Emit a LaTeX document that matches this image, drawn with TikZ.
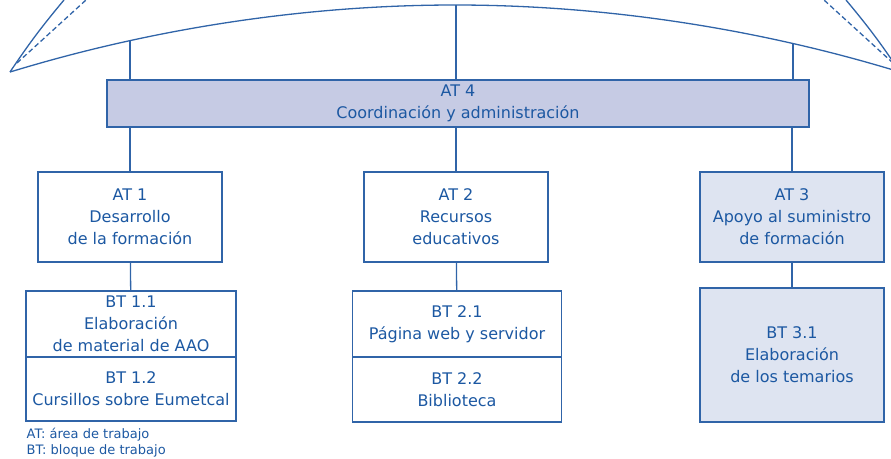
\documentclass[tikz,border=0pt]{standalone}
\usepackage{fontspec}
\setmainfont{DejaVu Sans}
\usepackage{xcolor}
\usepackage{tikz}

\definecolor{lineblue}{RGB}{48,100,168}
\definecolor{textblue}{RGB}{28,88,162}
\definecolor{lavender}{RGB}{198,203,228}
\definecolor{paleblue}{RGB}{222,228,241}

\begin{document}
\begin{tikzpicture}[
    x=1pt, y=-1pt,
    every node/.style={draw=lineblue, line width=1.5pt, text=textblue, align=center,
        inner sep=0pt, font=\fontsize{16}{22}\selectfont},
    link/.style={draw=lineblue, line width=1.3pt},
    roof/.style={draw=lineblue, line width=1.3pt},
    legend/.style={draw=none, font=\fontsize{13}{16}\selectfont, anchor=base west}
]

\useasboundingbox (0,0) rectangle (891,458);

% Roof
\draw[roof] (10,72) parabola bend (455,5) (900,72);
\draw[roof] (10,72) to[bend left=3] (64,0);
\draw[roof, dash pattern=on 5pt off 3pt] (17,63) -- (86,0);
\draw[roof] (900,72) to[bend right=3] (846,0);
\draw[roof, dash pattern=on 5pt off 3pt] (893,63) -- (824,0);
\coordinate (r1) at (130,40.7);
\coordinate (r2) at (456,5);
\coordinate (r3) at (793,43.5);

% Nodes
\node[fill=lavender, minimum width=702pt, minimum height=47pt] (AT4) at (458,103.5) {AT 4\\Coordinación y administración};
\node[minimum width=184pt, minimum height=90pt] (AT1) at (130,217) {AT 1\\Desarrollo\\de la formación};
\node[minimum width=184pt, minimum height=90pt] (AT2) at (456,217) {AT 2\\Recursos\\educativos};
\node[fill=paleblue, minimum width=184pt, minimum height=90pt] (AT3) at (792,217) {AT 3\\Apoyo al suministro\\de formación};
\node[minimum width=210pt, minimum height=66pt] (BT11) at (131,324) {BT 1.1\\Elaboración\\de material de AAO};
\node[minimum width=210pt, minimum height=64pt] (BT12) at (131,389) {BT 1.2\\Cursillos sobre Eumetcal};
\node[minimum width=209pt, minimum height=66pt] (BT21) at (457,324) {BT 2.1\\Página web y servidor};
\node[minimum width=209pt, minimum height=65pt] (BT22) at (457,389.5) {BT 2.2\\Biblioteca};
\node[fill=paleblue, minimum width=184pt, minimum height=134pt] (BT31) at (792,355) {BT 3.1\\Elaboración\\de los temarios};

% Edges
\draw[link] (r1) -- (r1 |- AT4.north);
\draw[link] (r2) -- (r2 |- AT4.north);
\draw[link] (r3) -- (r3 |- AT4.north);
\draw[link] (AT4.south -| AT1) -- (AT1);
\draw[link] (AT4.south -| AT2) -- (AT2);
\draw[link] (AT4.south -| AT3) -- (AT3);
\draw[link] (AT1) -- (BT11);
\draw[link] (AT2) -- (BT21);
\draw[link] (AT3) -- (BT31);

% Legend
\node[legend] (leg1) at (26,438) {AT: área de trabajo};
\node[legend] (leg2) at (26,454) {BT: bloque de trabajo};

\end{tikzpicture}
\end{document}
